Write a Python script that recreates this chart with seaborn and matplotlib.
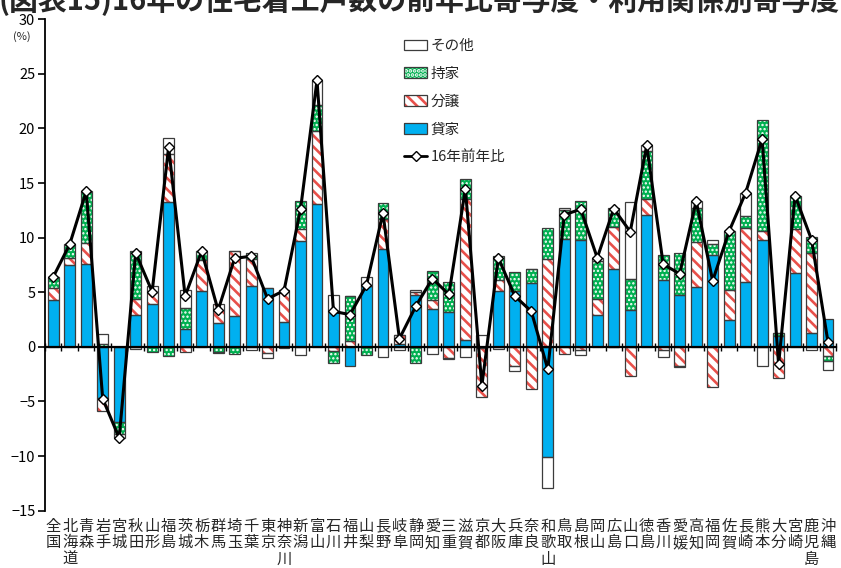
import numpy as np
import matplotlib
matplotlib.use("Agg")
import matplotlib.pyplot as plt
import seaborn as sns
from matplotlib.patches import Patch
from matplotlib.lines import Line2D
from matplotlib.legend_handler import HandlerTuple

# ---- data: contributions to the 2016 y/y change in housing starts (%pt) ----
prefectures = [
    "全国", "北海道", "青森", "岩手", "宮城", "秋田", "山形", "福島", "茨城", "栃木",
    "群馬", "埼玉", "千葉", "東京", "神奈川", "新潟", "富山", "石川", "福井", "山梨",
    "長野", "岐阜", "静岡", "愛知", "三重", "滋賀", "京都", "大阪", "兵庫", "奈良",
    "和歌山", "鳥取", "島根", "岡山", "広島", "山口", "徳島", "香川", "愛媛", "高知",
    "福岡", "佐賀", "長崎", "熊本", "大分", "宮崎", "鹿児島", "沖縄",
]
rental = [4.3, 7.5, 7.6, -4.7, -6.9, 2.9, 3.9, 13.3, 1.6, 5.1,
          2.2, 2.85, 5.6, 5.4, 2.3, 9.7, 13.1, 3.3, -1.75, 5.6,
          9.0, 0.3, 4.75, 3.42, 3.15, 0.6, -0.1, 5.1, 5.1, 5.85,
          -10.1, 9.9, 9.75, 2.95, 7.15, 3.4, 12.1, 6.15, 4.75, 5.5,
          8.45, 2.45, 5.95, 9.8, 1.0, 6.8, 1.3, 2.55]
condo = [1.1, 0.65, 1.9, -1.2, 0.0, 1.5, 1.1, 4.4, -0.5, 2.85,
         1.75, 5.9, 2.4, -0.55, 2.95, 1.1, 6.65, -0.35, 0.5, 0.0,
         2.75, 0.75, 0.25, 0.91, -1.0, 12.9, -4.5, 1.05, -1.75, -3.9,
         8.0, -0.65, -0.25, 1.45, 3.85, -2.7, 1.45, -0.3, -1.75, 4.1,
         -3.7, 2.75, 4.95, 0.85, -2.9, 4.0, 7.25, -0.85]
owner = [1.0, 1.2, 4.65, 0.25, -1.1, 4.4, -0.5, -0.8, 2.0, 0.85,
         -0.45, -0.65, 0.6, 0.0, 0.0, 2.55, 2.4, -1.1, 4.2, -0.75,
         1.4, 0.0, -1.45, 2.62, 2.8, 1.9, 0.0, 2.2, 1.75, 1.3,
         2.9, 2.6, 3.6, 3.45, 1.7, 2.8, 4.35, 2.3, 3.8, 3.15,
         1.0, 5.4, 1.05, 10.15, 0.3, 3.05, 1.5, -0.45]
other = [0.0, 0.05, 0.1, 0.9, -0.35, -0.2, 0.6, 1.4, 1.6, 0.0,
         -0.15, 0.0, -0.3, -0.45, -0.1, -0.75, 2.25, 1.45, 0.0, 0.8,
         -0.9, -0.3, 0.2, -0.7, -0.15, -0.95, 1.05, -0.2, -0.45, 0.0,
         -2.85, 0.25, -0.5, 0.3, -0.05, 7.05, 0.55, -0.6, -0.1, 0.6,
         0.3, 0.0, 2.15, -1.75, 0.0, 0.0, -0.25, -0.85]
yoy = [6.4, 9.4, 14.25, -4.75, -8.35, 8.6, 5.05, 18.3, 4.65, 8.75,
       3.35, 8.1, 8.3, 4.4, 5.15, 12.6, 24.4, 3.25, 2.95, 5.65,
       12.25, 0.75, 3.75, 6.25, 4.8, 14.45, -3.55, 8.15, 4.65, 3.25,
       -2.05, 12.1, 12.6, 8.15, 12.65, 10.55, 18.45, 7.55, 6.7, 13.35,
       6.05, 10.6, 14.1, 19.05, -1.6, 13.85, 9.8, 0.4]

# ---- styling ----
sns.set_theme(style="white")
plt.rcParams["font.family"] = ["Noto Sans CJK JP", "DejaVu Sans"]
plt.rcParams["hatch.linewidth"] = 1.9

BLUE = "#00B0F0"
GREEN = "#00B050"
RED = "#E8504A"
OUTLINE = "#3C3C3C"
STRIPES = "\\\\\\"
CHECKS = "...."

# (label, values, fill style, hatch line width)
components = [
    ("貸家", rental, dict(facecolor=BLUE, edgecolor=BLUE, hatch=None), 1.9),
    ("分譲", condo, dict(facecolor="white", edgecolor=RED, hatch=STRIPES), 1.9),
    ("持家", owner, dict(facecolor=GREEN, edgecolor="white", hatch=CHECKS), 1.1),
    ("その他", other, dict(facecolor="white", edgecolor="white", hatch=None), 1.9),
]

fig = plt.figure(figsize=(8.41, 5.68), dpi=100)
W, H = 841, 568
ax = fig.add_axes([45 / W, (H - 510.6) / H, (836.3 - 45) / W, (510.6 - 19.3) / H])

n = len(prefectures)
pos_base = np.zeros(n)
neg_base = np.zeros(n)
BAR_W = 0.66
for name, vals, style, hlw in components:
    v = np.asarray(vals, dtype=float)
    bottom = np.where(v >= 0, pos_base, neg_base)
    # filled / hatched body
    with plt.rc_context({"hatch.linewidth": hlw}):
        sns.barplot(x=prefectures, y=v, order=prefectures, bottom=bottom, ax=ax,
                    width=BAR_W, errorbar=None, linewidth=0, saturation=1,
                    color=style["facecolor"],
                    facecolor=style["facecolor"], edgecolor=style["edgecolor"],
                    hatch=style["hatch"], zorder=2)
    # segment outline
    sns.barplot(x=prefectures, y=v, order=prefectures, bottom=bottom, ax=ax,
                width=BAR_W, errorbar=None, linewidth=0.9, saturation=1,
                color=OUTLINE, facecolor="none", edgecolor=OUTLINE, zorder=3)
    pos_base += np.clip(v, 0, None)
    neg_base += np.clip(v, None, 0)

# y/y change line
sns.lineplot(x=prefectures, y=yoy, ax=ax, sort=False, color="black",
             linewidth=2.2, marker="D", markersize=5,
             markerfacecolor="white", markeredgecolor="black",
             markeredgewidth=1.0, zorder=5)

# ---- axes ----
ax.set_xlim(-0.5, n - 0.5)
ax.set_ylim(-15, 30)
ax.set_yticks(range(-15, 31, 5))
ax.tick_params(axis="y", direction="out", length=5, width=1.2, labelsize=10.5,
               pad=2, left=True, colors="black")
ax.set_xlabel("")
ax.set_ylabel("")
for s in ("top", "right"):
    ax.spines[s].set_visible(False)
ax.spines["left"].set_linewidth(1.3)
ax.spines["left"].set_color("black")
ax.spines["bottom"].set_position(("data", 0))
ax.spines["bottom"].set_linewidth(1.6)
ax.spines["bottom"].set_color("black")
ax.spines["bottom"].set_zorder(4)

# category boundary ticks on the zero line
ax.set_xticks(np.arange(n + 1) - 0.5)
ax.set_xticklabels([])
ax.tick_params(axis="x", direction="inout", length=6, width=1.0, bottom=True,
               colors="black")

# category names, written vertically, along the bottom edge
lab = ax.secondary_xaxis("bottom")
lab.set_xticks(np.arange(n))
lab.set_xticklabels(["\n".join(p) for p in prefectures], fontsize=11,
                    linespacing=0.98, va="top")
lab.tick_params(length=0, pad=5)
lab.spines["bottom"].set_visible(False)

# ---- legend ----
def hatched(face, hatch_col, hatch):
    return (Patch(facecolor=face, edgecolor=hatch_col, hatch=hatch, linewidth=0),
            Patch(facecolor="none", edgecolor=OUTLINE, linewidth=0.9))

with plt.rc_context({"hatch.linewidth": 1.1}):
    green_handle = hatched(GREEN, "white", CHECKS)
handles = [
    hatched("white", "white", None),
    green_handle,
    hatched("white", RED, STRIPES),
    hatched(BLUE, BLUE, None),
    Line2D([], [], color="black", linewidth=2.0, marker="D", markersize=5,
           markerfacecolor="white", markeredgecolor="black"),
]
labels = ["その他", "持家", "分譲", "貸家", "16年前年比"]
fig.legend(handles, labels, handler_map={tuple: HandlerTuple(ndivide=1, pad=0)},
           loc="upper left", bbox_to_anchor=(404 / W, 1 - 39 / H),
           bbox_transform=fig.transFigure, frameon=False, fontsize=10.5,
           handlelength=1.6, handleheight=0.75, handletextpad=0.2,
           labelspacing=0.95, borderpad=0, borderaxespad=0)

# ---- texts ----
fig.text(22 / W, 1 - 37 / H, "(%)", fontsize=8, ha="center", va="center")
fig.text(-2 / W, 1 - 10 / H, "(図表15)16年の住宅着工戸数の前年比寄与度・利用関係別寄与度",
         fontsize=20.8, fontweight="bold", ha="left", va="baseline")

fig.savefig("out.png", dpi=100)
